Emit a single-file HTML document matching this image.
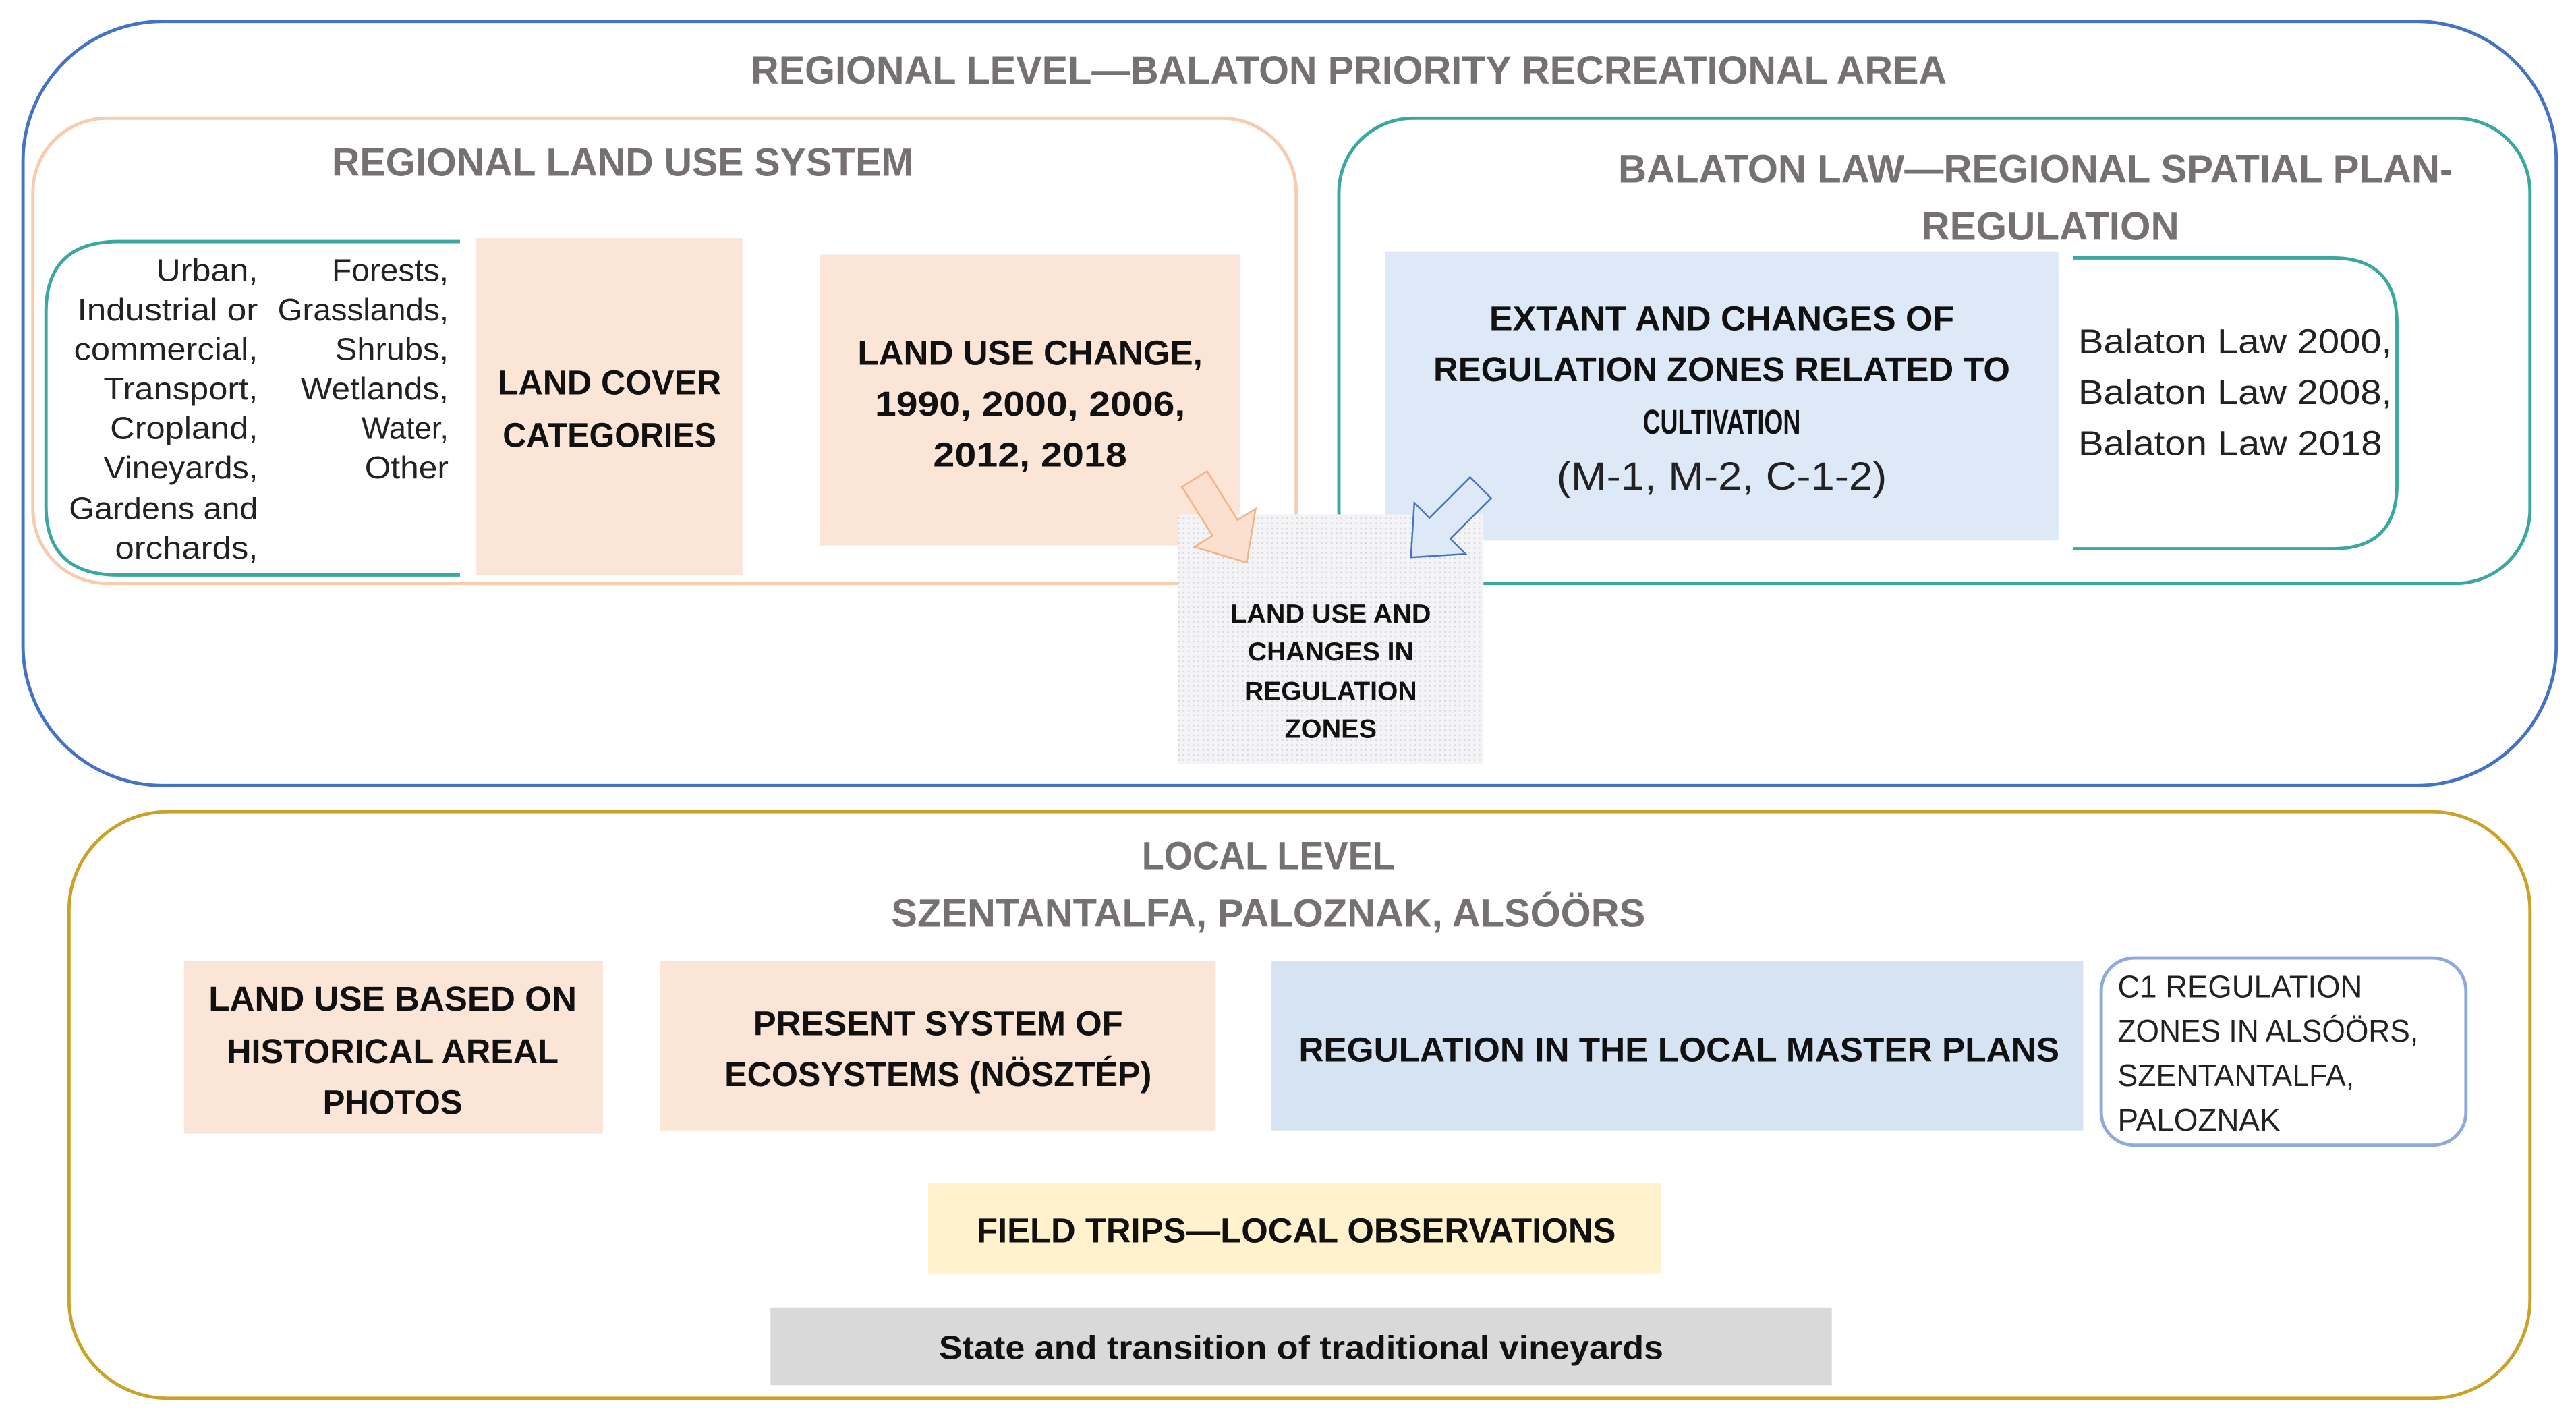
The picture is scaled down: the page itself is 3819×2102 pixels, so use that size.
<!DOCTYPE html>
<html><head><meta charset="utf-8">
<style>
html,body{margin:0;padding:0;background:#fff;}
svg{display:block;}
text{font-family:"Liberation Sans",sans-serif;}
.t{font-weight:bold;fill:#767171;font-size:24px;}
.b{font-weight:bold;fill:#111;font-size:21px;}
.r{fill:#222;font-size:19px;}
</style></head><body>
<svg width="3819" height="2102" viewBox="0 0 1568 863" preserveAspectRatio="none" xmlns="http://www.w3.org/2000/svg">
<defs>
<pattern id="dots" width="3" height="3" patternUnits="userSpaceOnUse">
<rect width="3" height="3" fill="#f4f4f6"/><rect width="1" height="1" fill="#d6d6dc"/>
</pattern>
</defs>
<!-- outer regional -->
<rect x="14" y="13" width="1542" height="465" rx="85" fill="#fff" stroke="#4472c4" stroke-width="2"/>
<text class="t" x="821" y="51" text-anchor="middle" textLength="728" lengthAdjust="spacingAndGlyphs">REGIONAL LEVEL—BALATON PRIORITY RECREATIONAL AREA</text>

<!-- regional land use system -->
<rect x="20" y="72" width="769" height="283" rx="45" fill="#fff" stroke="#f8cbad" stroke-width="2"/>
<text class="t" x="379" y="107" text-anchor="middle" textLength="354" lengthAdjust="spacingAndGlyphs">REGIONAL LAND USE SYSTEM</text>
<path d="M280 147 H72 Q28 147 28 190 V308 Q28 350 72 350 H280" fill="none" stroke="#3aa8a0" stroke-width="2"/>
<g class="r" text-anchor="end">
<text class="r" x="157" y="171" textLength="62" lengthAdjust="spacingAndGlyphs">Urban,</text>
<text class="r" x="157" y="195" textLength="110" lengthAdjust="spacingAndGlyphs">Industrial or</text>
<text class="r" x="157" y="219" textLength="112" lengthAdjust="spacingAndGlyphs">commercial,</text>
<text class="r" x="157" y="243" textLength="94" lengthAdjust="spacingAndGlyphs">Transport,</text>
<text class="r" x="157" y="267" textLength="90" lengthAdjust="spacingAndGlyphs">Cropland,</text>
<text class="r" x="157" y="291" textLength="94" lengthAdjust="spacingAndGlyphs">Vineyards,</text>
<text class="r" x="157" y="316" textLength="115" lengthAdjust="spacingAndGlyphs">Gardens and</text>
<text class="r" x="157" y="340" textLength="87" lengthAdjust="spacingAndGlyphs">orchards,</text>
<text class="r" x="273" y="171" textLength="71" lengthAdjust="spacingAndGlyphs">Forests,</text>
<text class="r" x="273" y="195" textLength="104" lengthAdjust="spacingAndGlyphs">Grasslands,</text>
<text class="r" x="273" y="219" textLength="69" lengthAdjust="spacingAndGlyphs">Shrubs,</text>
<text class="r" x="273" y="243" textLength="90" lengthAdjust="spacingAndGlyphs">Wetlands,</text>
<text class="r" x="273" y="267" textLength="53" lengthAdjust="spacingAndGlyphs">Water,</text>
<text class="r" x="273" y="291" textLength="51" lengthAdjust="spacingAndGlyphs">Other</text>
</g>
<rect x="290" y="145" width="162" height="205" fill="#fbe5d6"/>
<text class="b" x="371" y="240" text-anchor="middle" textLength="136" lengthAdjust="spacingAndGlyphs">LAND COVER</text>
<text class="b" x="371" y="272" text-anchor="middle" textLength="130" lengthAdjust="spacingAndGlyphs">CATEGORIES</text>
<rect x="499" y="155" width="256" height="177" fill="#fbe5d6"/>
<text class="b" x="627" y="222" text-anchor="middle" textLength="210" lengthAdjust="spacingAndGlyphs">LAND USE CHANGE,</text>
<text class="b" x="627" y="253" text-anchor="middle" textLength="189" lengthAdjust="spacingAndGlyphs">1990, 2000, 2006,</text>
<text class="b" x="627" y="284" text-anchor="middle" textLength="118" lengthAdjust="spacingAndGlyphs">2012, 2018</text>

<!-- balaton law -->
<rect x="815" y="72" width="725" height="283" rx="45" fill="#fff" stroke="#3aa8a0" stroke-width="2"/>
<text class="t" x="1239" y="111" text-anchor="middle" textLength="508" lengthAdjust="spacingAndGlyphs">BALATON LAW—REGIONAL SPATIAL PLAN-</text>
<text class="t" x="1248" y="146" text-anchor="middle" textLength="157" lengthAdjust="spacingAndGlyphs">REGULATION</text>
<rect x="843" y="153" width="410" height="176" fill="#dde9f6"/>
<text class="b" x="1048" y="201" text-anchor="middle" textLength="283" lengthAdjust="spacingAndGlyphs">EXTANT AND CHANGES OF</text>
<text class="b" x="1048" y="232" text-anchor="middle" textLength="351" lengthAdjust="spacingAndGlyphs">REGULATION ZONES RELATED TO</text>
<text class="b" x="1048" y="264" text-anchor="middle" textLength="96" lengthAdjust="spacingAndGlyphs">CULTIVATION</text>
<text x="1048" y="298" text-anchor="middle" font-size="24" fill="#222" textLength="201" lengthAdjust="spacingAndGlyphs">(M-1, M-2, C-1-2)</text>
<path d="M1262 157 H1420 Q1459 157 1459 197 V295 Q1459 334 1420 334 H1262" fill="none" stroke="#3aa8a0" stroke-width="2"/>
<text x="1265" y="215" font-size="21" fill="#222" textLength="191" lengthAdjust="spacingAndGlyphs">Balaton Law 2000,</text>
<text x="1265" y="246" font-size="21" fill="#222" textLength="191" lengthAdjust="spacingAndGlyphs">Balaton Law 2008,</text>
<text x="1265" y="277" font-size="21" fill="#222" textLength="185" lengthAdjust="spacingAndGlyphs">Balaton Law 2018</text>

<!-- center box -->
<rect x="717" y="313" width="186" height="152" fill="url(#dots)"/>
<text x="810" y="379" text-anchor="middle" font-size="16" font-weight="bold" fill="#111" textLength="122" lengthAdjust="spacingAndGlyphs">LAND USE AND</text>
<text x="810" y="402" text-anchor="middle" font-size="16" font-weight="bold" fill="#111" textLength="101" lengthAdjust="spacingAndGlyphs">CHANGES IN</text>
<text x="810" y="426" text-anchor="middle" font-size="16" font-weight="bold" fill="#111" textLength="105" lengthAdjust="spacingAndGlyphs">REGULATION</text>
<text x="810" y="449" text-anchor="middle" font-size="16" font-weight="bold" fill="#111" textLength="56" lengthAdjust="spacingAndGlyphs">ZONES</text>

<!-- arrows -->
<polygon transform="translate(743,317) rotate(58)" points="-30,-9 5,-9 5,-22 30,0 5,22 5,9 -30,9" fill="#fbe0cf" stroke="#f4b183" stroke-width="1"/>
<polygon transform="translate(880,318) rotate(135)" points="-30,-9 5,-9 5,-22 30,0 5,22 5,9 -30,9" fill="#dde9f6" stroke="#4472c4" stroke-width="1"/>

<!-- local level -->
<rect x="42" y="494" width="1498" height="357" rx="60" fill="#fff" stroke="#c9a227" stroke-width="2"/>
<text class="t" x="772" y="529" text-anchor="middle" textLength="154" lengthAdjust="spacingAndGlyphs">LOCAL LEVEL</text>
<text class="t" x="772" y="564" text-anchor="middle" textLength="459" lengthAdjust="spacingAndGlyphs">SZENTANTALFA, PALOZNAK, ALSÓÖRS</text>
<rect x="112" y="585" width="255" height="105" fill="#fbe5d6"/>
<text class="b" x="239" y="615" text-anchor="middle" textLength="224" lengthAdjust="spacingAndGlyphs">LAND USE BASED ON</text>
<text class="b" x="239" y="647" text-anchor="middle" textLength="202" lengthAdjust="spacingAndGlyphs">HISTORICAL AREAL</text>
<text class="b" x="239" y="678" text-anchor="middle" textLength="85" lengthAdjust="spacingAndGlyphs">PHOTOS</text>
<rect x="402" y="585" width="338" height="103" fill="#fbe5d6"/>
<text class="b" x="571" y="630" text-anchor="middle" textLength="225" lengthAdjust="spacingAndGlyphs">PRESENT SYSTEM OF</text>
<text class="b" x="571" y="661" text-anchor="middle" textLength="260" lengthAdjust="spacingAndGlyphs">ECOSYSTEMS (NÖSZTÉP)</text>
<rect x="774" y="585" width="494" height="103" fill="#d6e3f3"/>
<text class="b" x="1022" y="646" text-anchor="middle" textLength="463" lengthAdjust="spacingAndGlyphs">REGULATION IN THE LOCAL MASTER PLANS</text>
<rect x="1279" y="583" width="222" height="114" rx="20" fill="#fff" stroke="#8eaadb" stroke-width="2"/>
<text x="1289" y="607" font-size="19" fill="#222" textLength="149" lengthAdjust="spacingAndGlyphs">C1 REGULATION</text>
<text x="1289" y="634" font-size="19" fill="#222" textLength="183" lengthAdjust="spacingAndGlyphs">ZONES IN ALSÓÖRS,</text>
<text x="1289" y="661" font-size="19" fill="#222" textLength="144" lengthAdjust="spacingAndGlyphs">SZENTANTALFA,</text>
<text x="1289" y="688" font-size="19" fill="#222" textLength="99" lengthAdjust="spacingAndGlyphs">PALOZNAK</text>
<rect x="565" y="720" width="446" height="55" fill="#fff2cc"/>
<text class="b" x="789" y="756" text-anchor="middle" textLength="389" lengthAdjust="spacingAndGlyphs">FIELD TRIPS—LOCAL OBSERVATIONS</text>
<rect x="469" y="796" width="646" height="47" fill="#d9d9d9"/>
<text x="792" y="827" text-anchor="middle" font-size="20" font-weight="bold" fill="#111" textLength="441" lengthAdjust="spacingAndGlyphs">State and transition of traditional vineyards</text>
</svg>
</body></html>
